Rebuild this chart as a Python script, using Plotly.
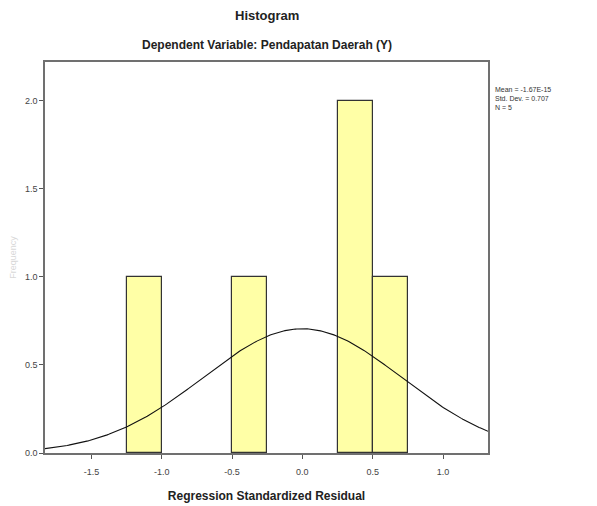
import numpy as np
import plotly.graph_objects as go

# Data
bin_centers = [-1.125, -0.375, 0.375, 0.625]
counts = [1, 1, 2, 1]
bin_width = 0.25
x_ticks = [-1.5, -1.0, -0.5, 0.0, 0.5, 1.0]
y_ticks = [0.0, 0.5, 1.0, 1.5, 2.0]
stat_mean = -1.67e-15
stat_std = 0.707
stat_n = 5
title = "Histogram"
subtitle = "Dependent Variable: Pendapatan Daerah (Y)"
x_title = "Regression Standardized Residual"
y_title = "Frequency"
stats_text = "Mean = -1.67E-15<br>Std. Dev. = 0.707<br>N = 5"

x_range = [-1.83, 1.32]
y_range = [0, 2.22]

# normal curve from the stats
xc = np.linspace(x_range[0], x_range[1], 300)
yc = stat_n * bin_width / (stat_std * np.sqrt(2 * np.pi)) * np.exp(-((xc - stat_mean) ** 2) / (2 * stat_std ** 2))

fig = go.Figure()
fig.add_trace(go.Bar(
    x=bin_centers, y=counts, width=bin_width,
    marker=dict(color="#ffffa6", line=dict(color="#333333", width=1.2)),
    showlegend=False, hoverinfo="skip",
))
fig.add_trace(go.Scatter(
    x=xc, y=yc, mode="lines",
    line=dict(color="#111111", width=1.1),
    showlegend=False, hoverinfo="skip",
))

font_family = "Liberation Sans, Arial, sans-serif"

fig.update_layout(
    width=597, height=506,
    margin=dict(l=37, r=117, t=54, b=61, autoexpand=False),
    paper_bgcolor="white", plot_bgcolor="white",
    font=dict(family=font_family, color="#222222"),
    bargap=0,
    xaxis=dict(
        range=x_range, tickvals=x_ticks, ticktext=[f"{v:.1f}" for v in x_ticks],
        showgrid=False, zeroline=False, showline=True, mirror=True,
        linecolor="#707070", linewidth=1.5,
        ticks="outside", ticklen=4, tickcolor="#555555",
        ticklabelstandoff=5, automargin=False,
        tickfont=dict(size=9, color="#444444"),
        title=dict(text=f"<b>{x_title}</b>", font=dict(size=12, color="#222222"), standoff=16),
    ),
    yaxis=dict(
        range=y_range, tickvals=y_ticks, ticktext=[f"{v:.1f}" for v in y_ticks],
        showgrid=False, zeroline=False, showline=True, mirror=True,
        linecolor="#707070", linewidth=1.5,
        ticks="outside", ticklen=4, tickcolor="#555555",
        automargin=False,
        tickfont=dict(size=9, color="#444444"),
        title=dict(text=y_title, font=dict(size=9, color="#d8d8d8"), standoff=8),
    ),
)

fig.add_annotation(
    text=f"<b>{title}</b>", xref="paper", yref="paper",
    x=0.5, y=1, yshift=47, showarrow=False, xanchor="center", yanchor="middle",
    font=dict(size=13, color="#222222"),
)
fig.add_annotation(
    text=f"<b>{subtitle}</b>", xref="paper", yref="paper",
    x=0.5, y=1, yshift=17, showarrow=False, xanchor="center", yanchor="middle",
    font=dict(size=12, color="#222222"),
)
fig.add_annotation(
    text=stats_text, xref="paper", yref="paper",
    x=1, xshift=5, y=1, yshift=-22, showarrow=False, xanchor="left", yanchor="top",
    align="left", font=dict(size=7, color="#333333"),
)

fig.write_html("out.html")
